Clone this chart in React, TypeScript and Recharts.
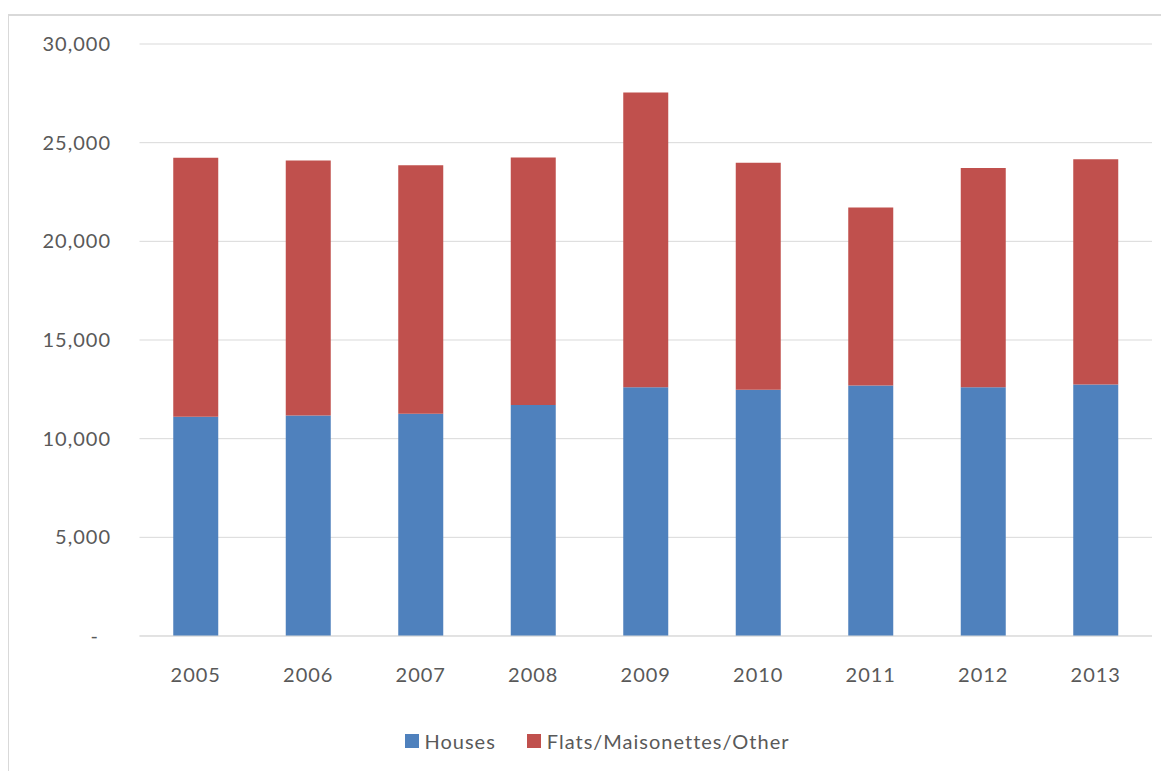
import { BarChart, Bar, XAxis, YAxis, CartesianGrid, Legend } from 'recharts';

const years = ['2005', '2006', '2007', '2008', '2009', '2010', '2011', '2012', '2013'];
const houses = [11110, 11180, 11260, 11700, 12610, 12480, 12700, 12610, 12750];
const flats = [13120, 12920, 12590, 12550, 14930, 11500, 9020, 11100, 11410];
const yTicks = [0, 5000, 10000, 15000, 20000, 25000, 30000];

const data = years.map((year, i) => ({
    year,
    houses: houses[i],
    flats: flats[i],
}));

const textColor = '#595959';
const font = 'Lato, "Liberation Sans", sans-serif';

const YTick = (props: any) => {
    const { x, y, payload } = props;
    const v = payload.value;
    return (
        <text x={v === 0 ? x - 11 : x + 1} y={y} dy="0.355em" textAnchor="end"
            fill={textColor} fontSize={20} fontFamily={font} letterSpacing={1}>
            {v === 0 ? '-' : v.toLocaleString('en-US')}
        </text>
    );
};

const LegendBox = () => (
    <div style={{
        height: 24, display: 'flex', alignItems: 'center', justifyContent: 'center',
        paddingLeft: 18, fontFamily: font, fontSize: 20, color: textColor, letterSpacing: 1,
    }}>
        <span style={{ width: 14, height: 14, background: '#4F81BD', marginRight: 5 }} />
        <span style={{ marginRight: 31 }}>Houses</span>
        <span style={{ width: 14, height: 14, background: '#C0504D', marginRight: 6 }} />
        <span>Flats/Maisonettes/Other</span>
    </div>
);

export default function App() {
    return (
        <div style={{ position: 'relative', width: 1161, height: 763 }}>
            <div style={{
                position: 'absolute', left: -1, top: 6, right: -10, bottom: -10,
                borderTop: '2px solid #d9d9d9', borderLeft: '2px solid #d9d9d9',
            }} />
            <BarChart width={1161} height={763} data={data}
                margin={{ top: 36, right: 17, left: 0, bottom: 18 }}
                barCategoryGap="30%" style={{ position: 'absolute', left: 0, top: 0 }}>
                <CartesianGrid vertical={false} stroke="#d9d9d9" />
                <XAxis dataKey="year" height={93} tickLine={false}
                    axisLine={{ stroke: '#d9d9d9' }} tickMargin={26}
                    tick={{ fill: textColor, fontSize: 20, fontFamily: font, letterSpacing: 1 }} />
                <YAxis width={131.5} domain={[0, 30000]} ticks={yTicks}
                    axisLine={false} tickLine={false} tickMargin={23.5}
                    tick={<YTick />} interval={0} />
                <Legend verticalAlign="bottom" content={<LegendBox />}
                    wrapperStyle={{ left: 0, width: 1161 }} />
                <Bar dataKey="houses" name="Houses" stackId="a" fill="#4F81BD" isAnimationActive={false} />
                <Bar dataKey="flats" name="Flats/Maisonettes/Other" stackId="a" fill="#C0504D" isAnimationActive={false} />
            </BarChart>
        </div>
    );
}
